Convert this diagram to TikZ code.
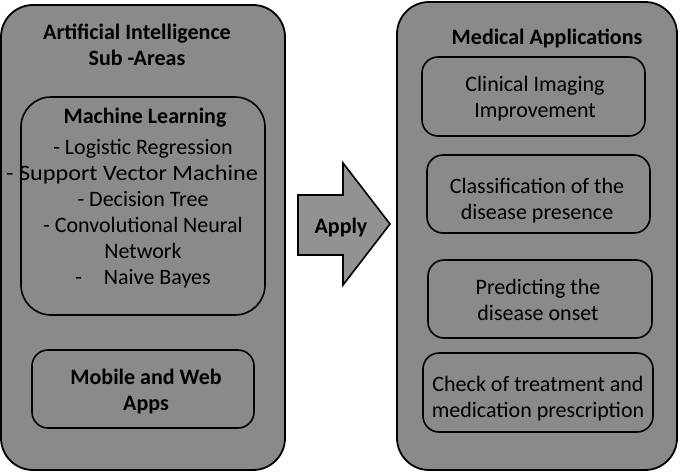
\documentclass[tikz,border=0pt]{standalone}
\usepackage{graphicx}
\usepackage{fontspec}
\setmainfont{Carlito}
\definecolor{boxgray}{RGB}{138,138,138}
\definecolor{arrowgray}{RGB}{146,146,146}
\tikzset{
  outerbox/.style={draw=black, line width=1.8pt, fill=boxgray, rounded corners=32pt, inner sep=0pt},
  innerbox/.style={draw=black, line width=1.6pt, fill=boxgray, rounded corners=16pt, inner sep=0pt},
  txt/.style={align=center, inner sep=0pt, font=\fontsize{22}{26}\selectfont, text=black},
  btxt/.style={txt, font=\fontsize{22}{26}\selectfont\bfseries},
}
\begin{document}
\begin{tikzpicture}[x=1pt,y=-1pt]
\useasboundingbox (0,0) rectangle (680,474);
\fill[white] (0,0) rectangle (680,474);
% outer boxes
\node[outerbox, minimum width=284pt, minimum height=465pt] (left) at (143,237.5) {};
\node[outerbox, minimum width=280pt, minimum height=468pt] (right) at (537,236) {};
% left inner boxes
\node[innerbox, rounded corners=30pt, minimum width=244pt, minimum height=218pt] (ml) at (143,206) {};
\node[innerbox, minimum width=222pt, minimum height=78pt] (mw) at (143,389) {};
% left texts
\node[btxt] (aititle) at (137,45) {Artificial Intelligence\\Sub -Areas};
\node[btxt] (mltitle) at (145,118) {Machine Learning};
\node[txt] (mllist) at (143,214) {- Logistic Regression\\\makebox[230pt][r]{\scalebox{1.1}[1]{- Support Vector Machine}}\\- Decision Tree\\- Convolutional Neural\\Network\\-\quad Naive Bayes};
\node[btxt] (mwtext) at (146,392) {Mobile and Web\\Apps};
% arrow
\coordinate (a1) at (298,195);
\coordinate (a2) at (343,195);
\coordinate (a3) at (343,163);
\coordinate (a4) at (390,224);
\coordinate (a5) at (343,285);
\coordinate (a6) at (343,255);
\coordinate (a7) at (298,255);
\draw[line width=1.6pt, fill=arrowgray, line join=miter] (a1) -- (a2) -- (a3) -- (a4) -- (a5) -- (a6) -- (a7) -- cycle;
\node[btxt] (apply) at (341,228) {Apply};
% right
\node[btxt] (medtitle) at (547,38) {Medical Applications};
\node[innerbox, minimum width=223pt, minimum height=79pt] (b1) at (533.5,96.5) {};
\node[innerbox, minimum width=223pt, minimum height=78pt] (b2) at (538.5,194) {};
\node[innerbox, minimum width=224pt, minimum height=78pt] (b3) at (540,299) {};
\node[innerbox, minimum width=230pt, minimum height=79pt] (b4) at (538,392.5) {};
\node[txt] (t1) at (535,99) {Clinical Imaging\\Improvement};
\node[txt] (t2) at (537,200.5) {Classification of the\\disease presence};
\node[txt] (t3) at (538,300) {Predicting the\\disease onset};
\node[txt] (t4) at (538,398.5) {Check of treatment and\\medication prescription};
\end{tikzpicture}
\end{document}
